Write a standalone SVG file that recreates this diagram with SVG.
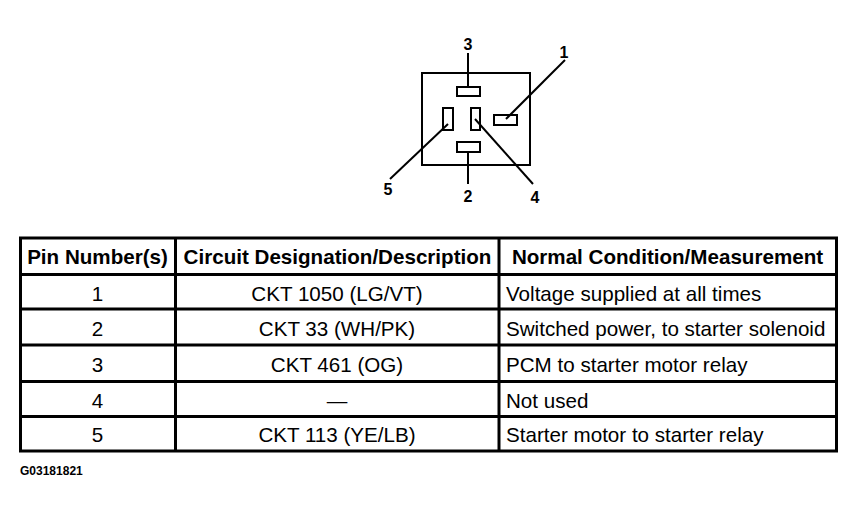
<svg xmlns="http://www.w3.org/2000/svg" width="858" height="513" viewBox="0 0 858 513">
<style>
.bg{fill:#fff}
.ln{stroke:#000;fill:none}
.pin{stroke:#000;stroke-width:2;fill:#fff}
.lab{font-family:"Liberation Sans",Arial,sans-serif;font-weight:bold;font-size:16px;fill:#000;text-anchor:middle}
.th{font-family:"Liberation Sans",Arial,sans-serif;font-weight:bold;font-size:20.6px;fill:#000;text-anchor:middle}
.td{font-family:"Liberation Sans",Arial,sans-serif;font-size:20.6px;fill:#000;text-anchor:middle}
.tl{font-family:"Liberation Sans",Arial,sans-serif;font-size:20.6px;fill:#000}
.grid{stroke:#000;stroke-width:3;fill:none}
.code{font-family:"Liberation Sans",Arial,sans-serif;font-weight:bold;font-size:12px;fill:#000}
</style>
<rect class="bg" x="0" y="0" width="858" height="513"/>
<g id="connector">
  <rect class="ln" x="422" y="73" width="108" height="92" stroke-width="2"/>
  <rect id="pin3" class="pin" x="457" y="87" width="23" height="9"/>
  <rect id="pin1" class="pin" x="494" y="115" width="23" height="10"/>
  <rect id="pin5" class="pin" x="443" y="108" width="10" height="22"/>
  <rect id="pin4" class="pin" x="471" y="108" width="9" height="22"/>
  <rect id="pin2" class="pin" x="457" y="142" width="23" height="10"/>
</g>
<g id="leaders" class="ln" stroke-width="2">
  <line x1="468" y1="53" x2="468" y2="88"/>
  <line x1="565" y1="60" x2="506" y2="119"/>
  <line x1="390" y1="179" x2="448" y2="124"/>
  <line x1="468" y1="152" x2="468" y2="184"/>
  <line x1="475" y1="119" x2="533" y2="184"/>
</g>
<g id="labels">
  <text class="lab" x="468" y="50">3</text>
  <text class="lab" x="564" y="58">1</text>
  <text class="lab" x="388" y="195">5</text>
  <text class="lab" x="468" y="202">2</text>
  <text class="lab" x="535" y="203">4</text>
</g>
<g id="table">
  <rect class="grid" x="20.5" y="238" width="816" height="213"/>
  <line class="grid" x1="20" y1="274.5" x2="837" y2="274.5"/>
  <line class="grid" x1="20" y1="309" x2="837" y2="309"/>
  <line class="grid" x1="20" y1="345" x2="837" y2="345"/>
  <line class="grid" x1="20" y1="381.5" x2="837" y2="381.5"/>
  <line class="grid" x1="20" y1="416.5" x2="837" y2="416.5"/>
  <line class="grid" x1="175.5" y1="238" x2="175.5" y2="451"/>
  <line class="grid" x1="499" y1="238" x2="499" y2="451"/>
  <text class="th" x="97.5" y="264">Pin Number(s)</text>
  <text class="th" x="337.5" y="264">Circuit Designation/Description</text>
  <text class="th" x="667.5" y="264">Normal Condition/Measurement</text>
  <text class="td" x="97.5" y="301">1</text>
  <text class="td" x="337" y="301">CKT 1050 (LG/VT)</text>
  <text class="tl" x="506" y="301">Voltage supplied at all times</text>
  <text class="td" x="97.5" y="336">2</text>
  <text class="td" x="337" y="336">CKT 33 (WH/PK)</text>
  <text class="tl" x="506" y="336">Switched power, to starter solenoid</text>
  <text class="td" x="97.5" y="372">3</text>
  <text class="td" x="337" y="372">CKT 461 (OG)</text>
  <text class="tl" x="506" y="372">PCM to starter motor relay</text>
  <text class="td" x="97.5" y="407.5">4</text>
  <text class="td" x="337" y="407.5">—</text>
  <text class="tl" x="506" y="407.5">Not used</text>
  <text class="td" x="97.5" y="442">5</text>
  <text class="td" x="337" y="442">CKT 113 (YE/LB)</text>
  <text class="tl" x="506" y="442">Starter motor to starter relay</text>
</g>
<text class="code" x="20" y="475">G03181821</text>
</svg>
